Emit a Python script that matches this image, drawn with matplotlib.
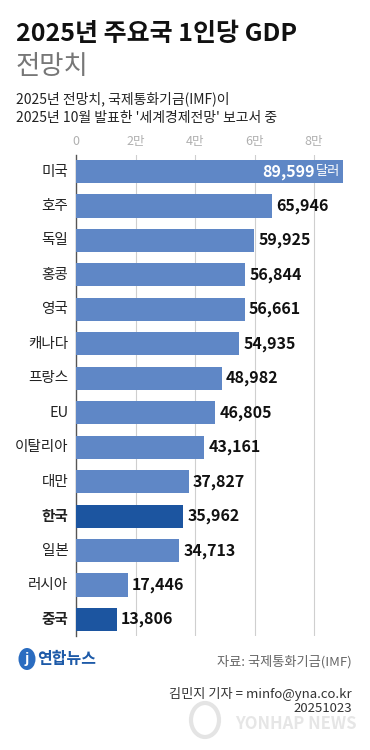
import matplotlib
matplotlib.use("Agg")
import matplotlib.pyplot as plt
from matplotlib.patches import Ellipse

plt.rcParams['font.family'] = ['Noto Sans CJK KR', 'DejaVu Sans']

countries = ['미국', '호주', '독일', '홍콩', '영국', '캐나다', '프랑스', 'EU',
             '이탈리아', '대만', '한국', '일본', '러시아', '중국']
values = [89599, 65946, 59925, 56844, 56661, 54935, 48982, 46805,
          43161, 37827, 35962, 34713, 17446, 13806]
highlight = ['한국', '중국']
tick_vals = [0, 20000, 40000, 60000, 80000]
tick_labels = ['0', '2만', '4만', '6만', '8만']

W, H = 370, 750
fig = plt.figure(figsize=(W / 100, H / 100), dpi=100)
fig.patch.set_facecolor('white')

def fx(px):
    return px / W

def fy(py):
    return 1 - py / H

ax_left, ax_right, ax_top, ax_bottom = 76, 352, 155, 636
ax = fig.add_axes([fx(ax_left), fy(ax_bottom), fx(ax_right - ax_left), (ax_bottom - ax_top) / H])
xmax = (ax_right - ax_left) / 59.5 * 20000
ax.set_xlim(0, xmax)
pitch = 34.46
pad = (171.5 - ax_top) / pitch
ax.set_ylim(len(countries) - 1 + pad, -pad)

normal_c = '#5f87c6'
dark_c = '#1c55a0'
colors = [dark_c if c in highlight else normal_c for c in countries]
ypos = list(range(len(countries)))
ax.barh(ypos, values, height=0.67, color=colors, zorder=3)

for t in tick_vals[1:]:
    ax.axvline(t, color='#cfcfcf', lw=0.8, zorder=1)
for s in ['top', 'right', 'bottom']:
    ax.spines[s].set_visible(False)
ax.spines['left'].set_color('#555555')
ax.spines['left'].set_linewidth(1.0)
ax.set_xticks([])
ax.set_yticks([])

for t, lab in zip(tick_vals, tick_labels):
    ax.text(t, -pad - 0.38, lab, ha='center', va='center', fontsize=9,
            color='#b0b0b0', transform=ax.transData, clip_on=False)

for i, (c, v) in enumerate(zip(countries, values)):
    bold = c in highlight
    ax.text(-2600, i, c, ha='right', va='center', fontsize=10.5,
            fontweight='bold' if bold else 'normal', color='#222222')
    if i == 0:
        unit = ax.text(v - 900, i, '달러', ha='right', va='center', fontsize=9.5,
                       color='white', zorder=5)
        ax.annotate(f'{v:,}', xy=(0, 0.5), xycoords=unit, xytext=(-0.5, 0),
                    textcoords='offset points', ha='right', va='center',
                    fontsize=11.5, fontweight='bold', color='white', zorder=5)
    else:
        ax.text(v + 1400, i, f'{v:,}', ha='left', va='center', fontsize=11.5,
                fontweight='bold', color='#111111')

# Titles
fig.text(fx(16), fy(34), '2025년 주요국 1인당 GDP', fontsize=18, fontweight='bold',
         color='#111111', ha='left', va='center')
fig.text(fx(16), fy(66), '전망치', fontsize=19, color='#777777', ha='left', va='center',
         fontweight='light')
fig.text(fx(16), fy(99), '2025년 전망치, 국제통화기금(IMF)이', fontsize=10,
         color='#222222', ha='left', va='center')
fig.text(fx(16), fy(118), "2025년 10월 발표한 '세계경제전망' 보고서 중", fontsize=10,
         color='#222222', ha='left', va='center')

# Footer
fig.text(fx(352), fy(662), '자료: 국제통화기금(IMF)', fontsize=9.5, color='#666666',
         ha='right', va='center')
fig.text(fx(352), fy(694), '김민지 기자 = minfo@yna.co.kr', fontsize=9.5, color='#333333',
         ha='right', va='center')
fig.text(fx(352), fy(708), '20251023', fontsize=9.5, color='#333333',
         ha='right', va='center', zorder=3)
fig.text(fx(357), fy(724), 'YONHAP NEWS', fontsize=12, fontweight='bold', style='italic',
         color='#e6e6e6', ha='right', va='center', zorder=0)
fig.patches.append(Ellipse((fx(205), fy(720)), 28 / W, 34 / H, transform=fig.transFigure,
                           facecolor='none', edgecolor='#e4e4e4', lw=3, zorder=0))

# Logo
fig.patches.append(Ellipse((fx(27), fy(659)), 17 / W, 22 / H, angle=0,
                           transform=fig.transFigure, facecolor='#2a6cc0',
                           edgecolor='none'))
fig.text(fx(27), fy(659), 'j', fontsize=10, color='white', ha='center', va='center',
         style='italic', fontweight='bold')
fig.text(fx(37), fy(659), '연합뉴스', fontsize=11.5, fontweight='bold', color='#1d5aa8',
         ha='left', va='center')

fig.savefig('out.png', dpi=100, facecolor='white')
